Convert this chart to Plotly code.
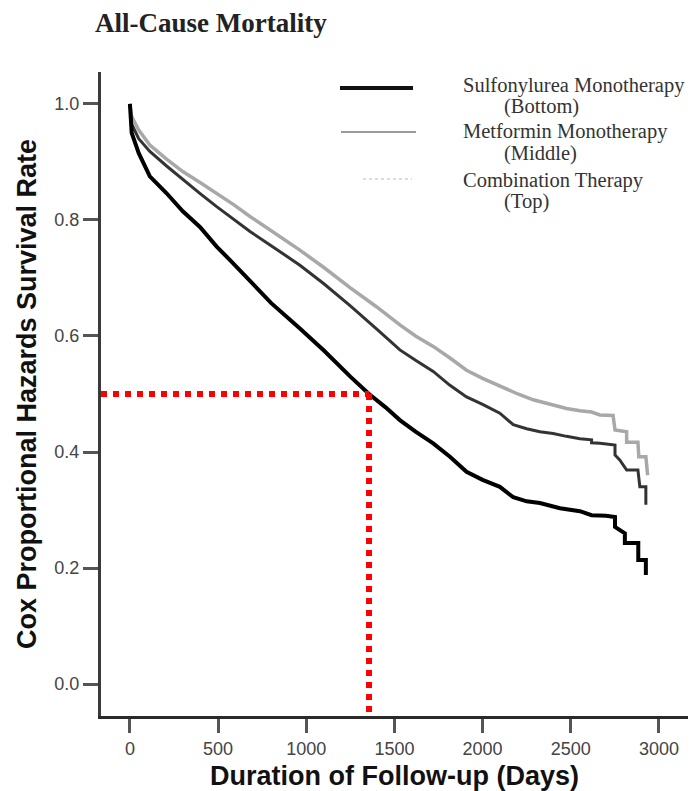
import plotly.graph_objects as go

# ---- data ----
sulf_days = [0, 10, 50, 113, 208, 300, 397, 492, 580, 662, 800, 964, 1100, 1250, 1356, 1450, 1531,
             1620, 1720, 1815, 1909, 2000, 2098, 2174, 2250, 2325, 2439, 2552, 2618, 2700, 2751, 2751,
             2807, 2807, 2883, 2883, 2926, 2926]
sulf_surv = [1.0, 0.95, 0.915, 0.875, 0.846, 0.815, 0.788, 0.754, 0.727, 0.700, 0.657, 0.613, 0.575,
             0.530, 0.500, 0.477, 0.455, 0.435, 0.415, 0.392, 0.366, 0.352, 0.340, 0.322, 0.315, 0.312,
             0.303, 0.298, 0.291, 0.290, 0.288, 0.271, 0.260, 0.243, 0.243, 0.214, 0.214, 0.188]

metf_days = [0, 10, 50, 113, 208, 302, 400, 492, 590, 681, 780, 870, 964, 1100, 1250, 1400, 1531,
             1620, 1720, 1815, 1909, 2000, 2098, 2174, 2250, 2325, 2400, 2476, 2552, 2618, 2618, 2665,
             2751, 2751, 2779, 2817, 2881, 2892, 2926, 2926]
metf_surv = [1.0, 0.965, 0.94, 0.918, 0.893, 0.869, 0.845, 0.823, 0.800, 0.780, 0.760, 0.742, 0.722,
             0.690, 0.652, 0.612, 0.576, 0.558, 0.539, 0.515, 0.495, 0.482, 0.467, 0.447, 0.440, 0.435,
             0.432, 0.427, 0.423, 0.421, 0.416, 0.415, 0.412, 0.395, 0.386, 0.369, 0.369, 0.340, 0.340,
             0.309]

comb_days = [0, 10, 50, 113, 208, 302, 400, 492, 590, 681, 780, 870, 964, 1100, 1250, 1400, 1531,
             1620, 1720, 1815, 1909, 2000, 2098, 2200, 2287, 2380, 2476, 2552, 2618, 2665, 2740, 2751,
             2817, 2817, 2881, 2886, 2926, 2936]
comb_surv = [1.0, 0.978, 0.955, 0.929, 0.905, 0.883, 0.864, 0.846, 0.826, 0.806, 0.786, 0.768, 0.748,
             0.718, 0.683, 0.650, 0.619, 0.600, 0.582, 0.562, 0.541, 0.527, 0.513, 0.500, 0.490, 0.482,
             0.475, 0.471, 0.469, 0.464, 0.463, 0.438, 0.435, 0.417, 0.417, 0.392, 0.392, 0.360]

median_day = 1356
median_surv = 0.5

x_ticks = [0, 500, 1000, 1500, 2000, 2500, 3000]
y_ticks = [0.0, 0.2, 0.4, 0.6, 0.8, 1.0]
x_range = [-164, 3165]
y_range = [-0.055, 1.055]

legend_labels = [("Sulfonylurea Monotherapy", "(Bottom)"),
                 ("Metformin Monotherapy", "(Middle)"),
                 ("Combination Therapy", "(Top)")]

# ---- layout geometry (page pixels; the page body adds an 8px margin) ----
OFF = 8
W, H = 700 - OFF, 791 - OFF
PLOT_L, PLOT_T, PLOT_R, PLOT_B = 101, 72, 688, 716   # page coords of the plot area
L, T = PLOT_L - OFF, PLOT_T - OFF
PW, PH = PLOT_R - PLOT_L, PLOT_B - PLOT_T
R, B = W - L - PW, H - T - PH


def px(xp):
    return (xp - PLOT_L) / PW


def py(yp):
    return (PLOT_B - yp) / PH


SANS = "Liberation Sans, Arial, sans-serif"
SERIF = "Liberation Serif, Times New Roman, serif"

fig = go.Figure()
fig.add_trace(go.Scatter(x=comb_days, y=comb_surv, mode="lines", name="Combination Therapy",
                         line=dict(color="#a8a8a8", width=3.5), showlegend=False))
fig.add_trace(go.Scatter(x=metf_days, y=metf_surv, mode="lines", name="Metformin Monotherapy",
                         line=dict(color="#333333", width=3), showlegend=False))
fig.add_trace(go.Scatter(x=sulf_days, y=sulf_surv, mode="lines", name="Sulfonylurea Monotherapy",
                         line=dict(color="#000000", width=4), showlegend=False))

# red dotted guide lines to the median survival point
fig.add_trace(go.Scatter(x=[x_range[0], median_day], y=[median_surv, median_surv], mode="lines",
                         line=dict(color="#ff0000", width=6, dash="6px,6px"), showlegend=False,
                         hoverinfo="skip"))
fig.add_trace(go.Scatter(x=[median_day, median_day], y=[median_surv, y_range[0]], mode="lines",
                         line=dict(color="#ff0000", width=6, dash="6px,6px"), showlegend=False,
                         hoverinfo="skip"))

# custom legend (line samples + two-line serif labels)
legend_styles = [
    dict(x0=340, x1=413, y=88, color="#111111", width=4, dash="solid"),
    dict(x0=341, x1=416, y=132, color="#9a9a9a", width=2, dash="solid"),
    dict(x0=363, x1=412, y=179, color="#dcdcdc", width=2, dash="dot"),
]
line1_y = [86, 132, 180]
line2_y = [106, 153, 201]
annotations = []
for (t1, t2), st, y1, y2 in zip(legend_labels, legend_styles, line1_y, line2_y):
    fig.add_shape(type="line", xref="paper", yref="paper",
                  x0=px(st["x0"]), x1=px(st["x1"]), y0=py(st["y"]), y1=py(st["y"]),
                  line=dict(color=st["color"], width=st["width"], dash=st["dash"]))
    annotations.append(dict(text=t1, xref="paper", yref="paper", x=px(461), y=py(y1),
                            xanchor="left", yanchor="middle", showarrow=False,
                            font=dict(family=SERIF, size=20.5, color="#333333")))
    annotations.append(dict(text=t2, xref="paper", yref="paper", x=px(502), y=py(y2),
                            xanchor="left", yanchor="middle", showarrow=False,
                            font=dict(family=SERIF, size=20.5, color="#333333")))

annotations.append(dict(text="<b>All-Cause Mortality</b>", xref="paper", yref="paper",
                        x=px(93), y=py(23), xanchor="left", yanchor="middle", showarrow=False,
                        font=dict(family=SERIF, size=27, color="#222222")))

fig.update_layout(
    width=W, height=H,
    margin=dict(l=L, r=R, t=T, b=B, autoexpand=False),
    paper_bgcolor="white", plot_bgcolor="white",
    showlegend=False,
    annotations=annotations,
)

fig.update_xaxes(
    range=x_range, tickvals=x_ticks, ticktext=[str(v) for v in x_ticks],
    showgrid=False, zeroline=False,
    showline=True, linecolor="#2a2a2a", linewidth=3,
    ticks="outside", ticklen=14, tickwidth=3, tickcolor="#555555",
    tickfont=dict(family=SANS, size=18, color="#444444"),
    title=dict(text="<b>Duration of Follow-up (Days)</b>", standoff=9,
               font=dict(family=SANS, size=27, color="#111111")),
    automargin=False,
)
fig.update_yaxes(
    range=y_range, tickvals=y_ticks, ticktext=[f"{v:.1f}" for v in y_ticks],
    showgrid=False, zeroline=False,
    showline=True, linecolor="#3a3a3a", linewidth=3,
    ticks="outside", ticklen=15, tickwidth=3, tickcolor="#555555",
    tickfont=dict(family=SANS, size=18, color="#444444"),
    title=dict(text="<b>Cox Proportional Hazards Survival Rate</b>", standoff=10,
               font=dict(family=SANS, size=27, color="#111111")),
    automargin=False,
)

fig.write_html("out.html")
